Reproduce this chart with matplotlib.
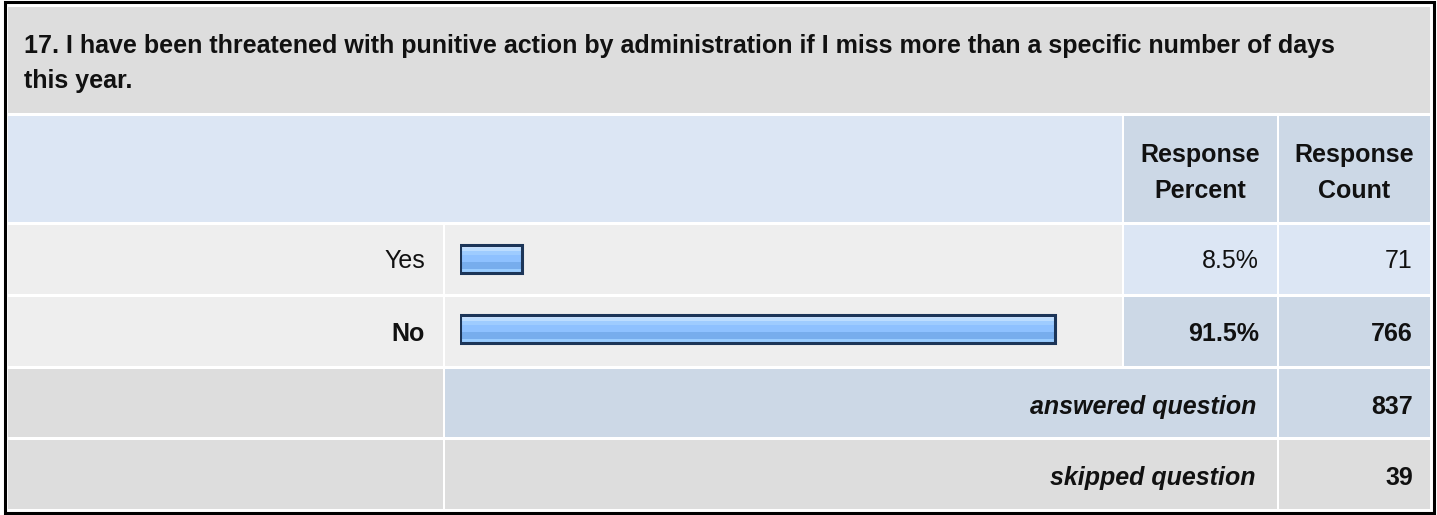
import numpy as np
import matplotlib
matplotlib.use("Agg")
import matplotlib.pyplot as plt
from matplotlib.patches import Rectangle

# DATA
question = ["17. I have been threatened with punitive action by administration if I miss more than a specific number of days",
            "this year."]
header = [["Response", "Percent"], ["Response", "Count"]]
answers = ["Yes", "No"]
percents = [8.5, 91.5]
counts = [71, 766]
answered = 837
skipped = 39

plt.rcParams["font.family"] = ["Liberation Sans", "DejaVu Sans"]
FS = 18
INK = "#111111"

W, H = 1437, 515
fig = plt.figure(figsize=(W / 100, H / 100), dpi=100)
ax = fig.add_axes([0, 0, 1, 1])
ax.set_xlim(0, W)
ax.set_ylim(H, 0)
ax.axis("off")

GRAY = "#dddddd"
LIGHT = "#eeeeee"
PALE = "#dce6f4"
BLUE = "#ccd8e6"


def cell(x0, y0, x1, y1, color):
    ax.add_patch(Rectangle((x0, y0), x1 - x0, y1 - y0, facecolor=color, edgecolor="none"))


def txt(x, y, s, ha="right", **kw):
    ax.text(x, y, s, ha=ha, va="baseline", fontsize=FS, color=INK, **kw)


# outer frame
ax.add_patch(Rectangle((4.5, 1.5), W - 8, H - 4, facecolor="white", edgecolor="black", lw=2.2))

# column edges (pixels)
xl, xb, xp, xc, xr = 8, 445, 1124, 1279, 1430
cell(xl, 7, xr, 113, GRAY)
cell(xl, 116, xp - 2, 222, PALE)
cell(xp, 116, xc - 2, 222, BLUE)
cell(xc, 116, xr, 222, BLUE)

rows = [(225, 294), (297, 366)]
base = [268, 341]
for i, (y0, y1) in enumerate(rows):
    cell(xl, y0, xb - 2, y1, LIGHT)
    cell(xb, y0, xp - 2, y1, LIGHT)
    c = PALE if i == 0 else BLUE
    cell(xp, y0, xc - 2, y1, c)
    cell(xc, y0, xr, y1, c)
    wt = "normal" if i == 0 else "bold"
    txt(425, base[i], answers[i], fontweight=wt)
    txt(1259, base[i], f"{percents[i]}%", fontweight=wt)
    txt(1413, base[i], str(counts[i]), fontweight=wt)

cell(xl, 369, xb - 2, 437, GRAY)
cell(xb, 369, xc - 2, 437, BLUE)
cell(xc, 369, xr, 437, BLUE)
cell(xl, 440, xb - 2, 509, GRAY)
cell(xb, 440, xc - 2, 509, GRAY)
cell(xc, 440, xr, 509, GRAY)

txt(1256, 414, "answered question", fontweight="bold", style="italic")
txt(1413, 414, str(answered), fontweight="bold")
txt(1256, 485, "skipped question", fontweight="bold", style="italic")
txt(1413, 485, str(skipped), fontweight="bold")

# title
for k, line in enumerate(question):
    txt(24, 53 + 35 * k, line, ha="left", fontweight="bold")

# header
for (cx, lines) in zip([(xp + xc - 2) / 2, (xc + xr) / 2], header):
    for k, line in enumerate(lines):
        txt(cx, 162 + 36 * k, line, ha="center", fontweight="bold")

# bars
pad = 1.15
bx0, bx1 = 460, 460 + 6.42 * (100 + pad)
by0, by1 = 225, 366
bax = fig.add_axes([bx0 / W, 1 - by1 / H, (bx1 - bx0) / W, (by1 - by0) / H])
bax.set_xlim(-pad, 100)
bax.set_ylim(1.5, -0.5)
bax.axis("off")
bax.patch.set_alpha(0)

stripes = np.array([[0.80, 0.89, 1.0], [0.74, 0.87, 1.0], [0.62, 0.80, 1.0], [0.56, 0.76, 1.0],
                    [0.56, 0.76, 1.0], [0.47, 0.68, 0.93], [0.47, 0.68, 0.93], [0.60, 0.80, 1.0]])
grad = stripes[:, None, :]
ypos = np.arange(len(answers)) - 0.02
bh = 0.40
bars = bax.barh(ypos, [p + pad for p in percents], left=-pad, height=bh,
                facecolor="none", edgecolor="#1c3558", lw=2.2, zorder=3)
for b in bars:
    im = bax.imshow(grad, extent=(b.get_x(), b.get_x() + b.get_width(), b.get_y() + b.get_height(), b.get_y()),
                    aspect="auto", interpolation="nearest", zorder=2)
    im.set_clip_path(b)

fig.savefig("out.png", dpi=100)
